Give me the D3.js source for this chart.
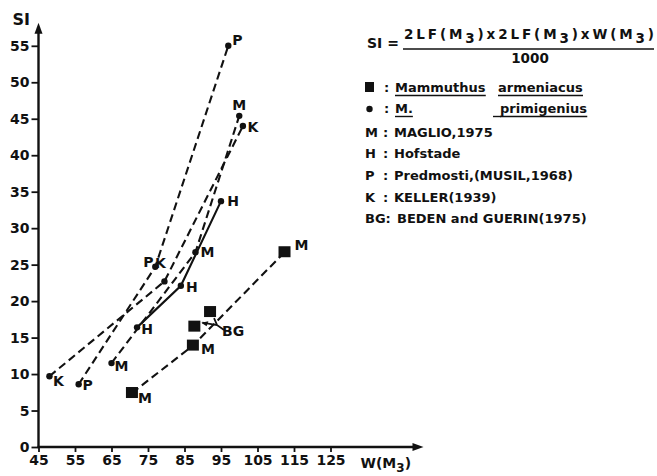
<!DOCTYPE html>
<html><head><meta charset="utf-8">
<script src="https://cdn.jsdelivr.net/npm/d3@7"></script>
<style>
body{margin:0;background:#fff}
svg{display:block}
text{font-family:"DejaVu Sans",sans-serif;font-weight:bold;fill:#111}
</style>
</head><body><svg id="c" width="657" height="476"></svg>
<script>
// ---- data ----
const xTicks = [45,55,65,75,85,95,105,115,125];
const yTicks = [0,5,10,15,20,25,30,35,40,45,50,55];
// M. primigenius
const predmostiX = [56, 77, 97],      predmostiY = [8.6, 24.7, 55];
const kellerX    = [48, 79.5, 101],   kellerY    = [9.7, 22.7, 44];
const maglioPX   = [65, 88, 100],     maglioPY   = [11.5, 26.7, 45.4];
const hofstadeX  = [72, 84, 95],      hofstadeY  = [16.4, 22.1, 33.7];
// Mammuthus armeniacus
const maglioAX   = [70.6, 87.3, 112.4], maglioAY = [7.4, 13.9, 26.7];
const bedenX     = [87.7, 92],        bedenY     = [16.5, 18.5];

const predmostiLab = ["P","P","P"];
const kellerLab    = ["K","K","K"];
const maglioPLab   = ["M","M","M"];
const hofstadeLab  = ["H","H","H"];
const maglioALab   = ["M","M","M"];

// ---- layout ----
const svg = d3.select("#c");
const x = d3.scaleLinear().domain([45,125]).range([38.5,330.5]);
const y = d3.scaleLinear().domain([0,55]).range([447,45.8]);
const ink = "#111";

const zip = (xs,ys)=>xs.map((v,i)=>[v,ys[i]]);
const line = d3.line().x(d=>x(d[0])).y(d=>y(d[1]));

// axes
const yAx = svg.append("g").attr("transform",`translate(${x(45)},0)`)
  .call(d3.axisLeft(y).tickValues(yTicks).tickSize(7).tickPadding(2));
const xAx = svg.append("g").attr("transform",`translate(0,${y(0)})`)
  .call(d3.axisBottom(x).tickValues(xTicks).tickSize(5).tickPadding(3));
[yAx,xAx].forEach(g=>{
  g.select(".domain").remove();
  g.selectAll("line").attr("stroke",ink).attr("stroke-width",1.8);
  g.selectAll("text").attr("font-size",14).attr("fill",ink)
   .style("font-family","'DejaVu Sans',sans-serif").style("font-weight","bold");
});
const yTop = y(55)-23, xEnd = x(125)+93;
svg.append("line").attr("x1",x(45)).attr("x2",x(45)).attr("y1",y(0)+1).attr("y2",yTop+6)
  .attr("stroke",ink).attr("stroke-width",2.4);
svg.append("path").attr("d",`M${x(45)},${yTop} l-4,11 l8,0 z`).attr("fill",ink);
svg.append("line").attr("x1",x(45)-1).attr("x2",xEnd-6).attr("y1",y(0)).attr("y2",y(0))
  .attr("stroke",ink).attr("stroke-width",2.4);
svg.append("path").attr("d",`M${xEnd},${y(0)} l-11,-4 l0,8 z`).attr("fill",ink);

svg.append("text").attr("x",x(45)-26).attr("y",yTop+2).attr("font-size",16).text("SI");
const wl = svg.append("text").attr("x",x(125)+30).attr("y",y(0)+21).attr("font-size",14);
wl.append("tspan").text("W(M");
wl.append("tspan").attr("dy",4).attr("font-size",12).text("3");
wl.append("tspan").attr("dy",-4).text(")");

// series lines
const dash = "8,4.5";
const series = [
  {xs:predmostiX, ys:predmostiY, dash:dash},
  {xs:kellerX, ys:kellerY, dash:dash},
  {xs:maglioPX, ys:maglioPY, dash:dash},
  {xs:hofstadeX, ys:hofstadeY, dash:null},
  {xs:maglioAX, ys:maglioAY, dash:dash}
];
series.forEach(s=>{
  svg.append("path").attr("d",line(zip(s.xs,s.ys))).attr("fill","none")
    .attr("stroke",ink).attr("stroke-width",2.1)
    .attr("stroke-dasharray",s.dash);
});

// BG pointer
const b1=[x(bedenX[0]),y(bedenY[0])], b2=[x(bedenX[1]),y(bedenY[1])];
const jx=b2[0]+7, jy=b2[1]+13;
svg.append("path").attr("d",`M${b2[0]+14},${b2[1]+18} L${jx},${jy} L${b1[0]+8},${b1[1]-4} M${jx},${jy} L${b2[0]+4},${b2[1]+6}`)
  .attr("fill","none").attr("stroke",ink).attr("stroke-width",1.8);
svg.append("path").attr("d",`M${b1[0]+7},${b1[1]-4} l7,-1.5 l-1.8,5 z`).attr("fill",ink);

// markers
const prim = [[predmostiX,predmostiY],[kellerX,kellerY],[maglioPX,maglioPY],[hofstadeX,hofstadeY]];
prim.forEach(([xs,ys])=>{
  svg.selectAll(null).data(zip(xs,ys)).enter().append("circle")
    .attr("cx",d=>x(d[0])).attr("cy",d=>y(d[1])).attr("r",3.2).attr("fill",ink);
});
const sq=12;
svg.selectAll(null).data(zip(maglioAX,maglioAY).concat(zip(bedenX,bedenY))).enter().append("rect")
  .attr("x",d=>x(d[0])-sq/2).attr("y",d=>y(d[1])-sq/2).attr("width",sq).attr("height",sq-1).attr("fill",ink);

// point labels (offsets from the point centre)
const labelSets = [
  [predmostiX,predmostiY,predmostiLab,[[9,1],[-7,-5],[9,-6]]],
  [kellerX,kellerY,kellerLab,[[9,5],[-4,-18],[10,1]]],
  [maglioPX,maglioPY,maglioPLab,[[10,3],[12,0],[0,-11]]],
  [hofstadeX,hofstadeY,hofstadeLab,[[10,2],[11,1],[12,0]]],
  [maglioAX,maglioAY,maglioALab,[[13,5],[15,3],[17,-7]]]
];
labelSets.forEach(([xs,ys,ls,offs])=>{
  ls.forEach((l,i)=>{
    svg.append("text").attr("x",x(xs[i])+offs[i][0]).attr("y",y(ys[i])+offs[i][1])
      .attr("dy","0.36em").attr("text-anchor","middle").attr("font-size",14).text(l);
  });
});
svg.append("text").attr("x",b2[0]+12).attr("y",b2[1]+19).attr("dy","0.36em")
  .attr("font-size",14).text("BG");

// ---- legend ----
const lg = svg.append("g");
lg.append("text").attr("x",367).attr("y",48).attr("font-size",14).text("SI =");
const num = lg.append("text").attr("x",404).attr("y",39).attr("font-size",13.5);
[["2LF(M",0],["3",4],[")x2LF(M",-4],["3",4],[")xW(M",-4],["3",4],[")",-4]].forEach(([t,dy])=>{
  num.append("tspan").attr("dy",dy).text(t);
});
num.attr("textLength",250).attr("lengthAdjust","spacing");
lg.append("line").attr("x1",403).attr("x2",654).attr("y1",49).attr("y2",49).attr("stroke",ink).attr("stroke-width",1.5);
lg.append("text").attr("x",530).attr("y",63).attr("text-anchor","middle").attr("font-size",13.5).text("1000");

const fs = 13;
function ul(t){
  const bb=t.node().getBBox();
  lg.append("line").attr("x1",bb.x).attr("x2",bb.x+bb.width).attr("y1",+t.attr("y")+3.5).attr("y2",+t.attr("y")+3.5)
    .attr("stroke",ink).attr("stroke-width",1.4);
}
lg.append("rect").attr("x",365).attr("y",82).attr("width",9).attr("height",10).attr("fill",ink);
lg.append("text").attr("x",384).attr("y",92).attr("font-size",fs).text(":");
ul(lg.append("text").attr("x",395).attr("y",92).attr("font-size",fs).text("Mammuthus"));
ul(lg.append("text").attr("x",498).attr("y",92).attr("font-size",fs).text("armeniacus"));
lg.append("circle").attr("cx",369.5).attr("cy",109).attr("r",3.2).attr("fill",ink);
lg.append("text").attr("x",384).attr("y",113).attr("font-size",fs).text(":");
ul(lg.append("text").attr("x",395).attr("y",113).attr("font-size",fs).text("M."));
const pr = lg.append("text").attr("x",500).attr("y",113).attr("font-size",fs).text("primigenius");
ul(pr);
lg.append("line").attr("x1",493).attr("x2",501).attr("y1",116.5).attr("y2",116.5).attr("stroke",ink).attr("stroke-width",1.4);

const rows = [["M","MAGLIO,1975",137],["H","Hofstade",158],["P","Predmosti,(MUSIL,1968)",180],["K","KELLER(1939)",202]];
rows.forEach(([k,t,yy])=>{
  lg.append("text").attr("x",365).attr("y",yy).attr("font-size",fs).text(k);
  lg.append("text").attr("x",383).attr("y",yy).attr("font-size",fs).text(":");
  lg.append("text").attr("x",394).attr("y",yy).attr("font-size",fs).text(t);
});
lg.append("text").attr("x",365).attr("y",223).attr("font-size",fs).text("BG:");
lg.append("text").attr("x",397).attr("y",223).attr("font-size",fs).text("BEDEN and GUERIN(1975)");
</script></body></html>
